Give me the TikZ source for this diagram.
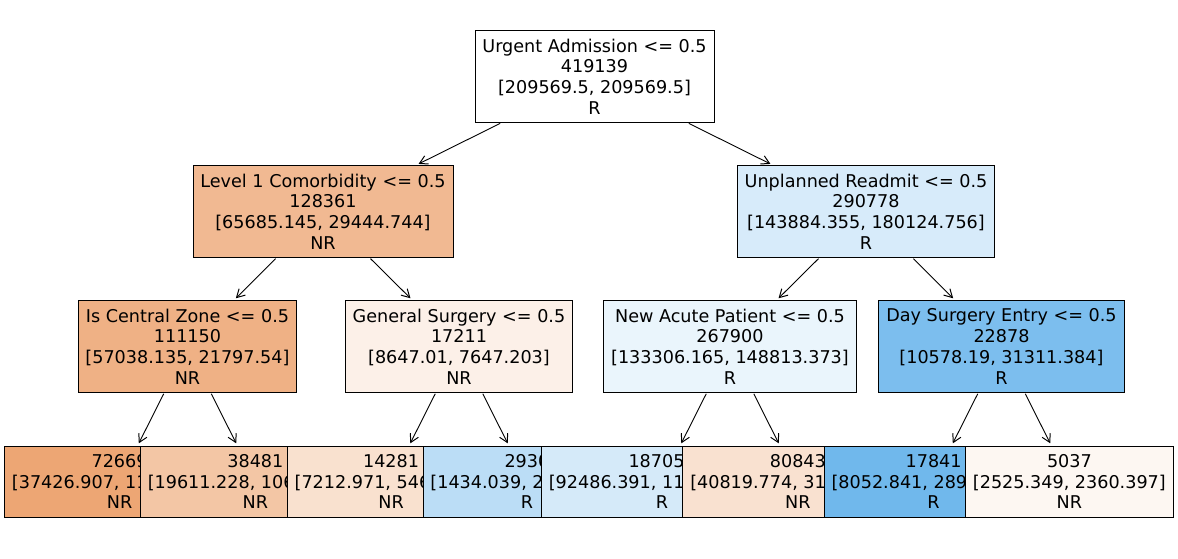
\documentclass[tikz,border=0pt]{standalone}
\usepackage{fontspec}
\setmainfont{DejaVu Sans}
\usetikzlibrary{arrows.meta}
\definecolor{nrc}{RGB}{229,129,57}
\definecolor{rc}{RGB}{57,157,229}
\tikzset{
  tbox/.style={draw=black, line width=0.9pt, align=center, inner xsep=7.4pt, inner ysep=0pt,
    font=\fontsize{17.6}{20.7}\selectfont},
  inner/.style={tbox, minimum height=92pt},
  leaf/.style={tbox, minimum height=71pt},
  edge/.style={draw=black, line width=0.9pt, -{Straight Barb[length=8pt,width=9pt,line width=1pt]}, shorten >=2.5pt, shorten <=1pt}
}
\begin{document}
\begin{tikzpicture}[x=1pt,y=-1pt]
\useasboundingbox (0,0) rectangle (1178,559);
\node[inner, fill=white] (root) at (594.5,76.5) {Urgent Admission <= 0.5\\419139\\{[209569.5, 209569.5]}\\R};
\node[inner, fill=nrc!55.17!white] (l1) at (323,211.5) {Level 1 Comorbidity <= 0.5\\128361\\{[65685.145, 29444.744]}\\NR};
\node[inner, fill=rc!20.12!white] (r1) at (866,211.5) {Unplanned Readmit <= 0.5\\290778\\{[143884.355, 180124.756]}\\R};
\node[inner, fill=nrc!61.78!white] (a2) at (187.5,346.5) {Is Central Zone <= 0.5\\111150\\{[57038.135, 21797.54]}\\NR};
\node[inner, fill=nrc!11.56!white] (b2) at (459,346.5) {General Surgery <= 0.5\\17211\\{[8647.01, 7647.203]}\\NR};
\node[inner, fill=rc!10.42!white] (c2) at (730,346.5) {New Acute Patient <= 0.5\\267900\\{[133306.165, 148813.373]}\\R};
\node[inner, fill=rc!66.22!white] (d2) at (1001.5,346.5) {Day Surgery Entry <= 0.5\\22878\\{[10578.19, 31311.384]}\\R};
\node[leaf, fill=nrc!70.30!white] (f1) at (119.6,481.5) {72669\\{[37426.907, 11115.541]}\\NR};
\node[leaf, fill=nrc!45.53!white] (f2) at (255.4,481.5) {38481\\{[19611.228, 10681.999]}\\NR};
\node[leaf, fill=nrc!24.20!white] (f3) at (391.1,481.5) {14281\\{[7212.971, 5467.449]}\\NR};
\node[leaf, fill=rc!34.21!white] (f4) at (526.9,481.5) {2930\\{[1434.039, 2179.754]}\\R};
\node[leaf, fill=rc!21.35!white] (f5) at (662.1,481.5) {187057\\{[92486.391, 117586.289]}\\R};
\node[leaf, fill=nrc!23.50!white] (f6) at (797.9,481.5) {80843\\{[40819.774, 31227.084]}\\NR};
\node[leaf, fill=rc!72.18!white] (f7) at (933.6,481.5) {17841\\{[8052.841, 28950.987]}\\R};
\node[leaf, fill=nrc!6.53!white] (f8) at (1069.4,481.5) {5037\\{[2525.349, 2360.397]}\\NR};
\path[edge] (root) -- (l1);
\path[edge] (root) -- (r1);
\path[edge] (l1) -- (a2);
\path[edge] (l1) -- (b2);
\path[edge] (r1) -- (c2);
\path[edge] (r1) -- (d2);
\path[edge] (a2) -- (f1);
\path[edge] (a2) -- (f2);
\path[edge] (b2) -- (f3);
\path[edge] (b2) -- (f4);
\path[edge] (c2) -- (f5);
\path[edge] (c2) -- (f6);
\path[edge] (d2) -- (f7);
\path[edge] (d2) -- (f8);
\end{tikzpicture}
\end{document}
